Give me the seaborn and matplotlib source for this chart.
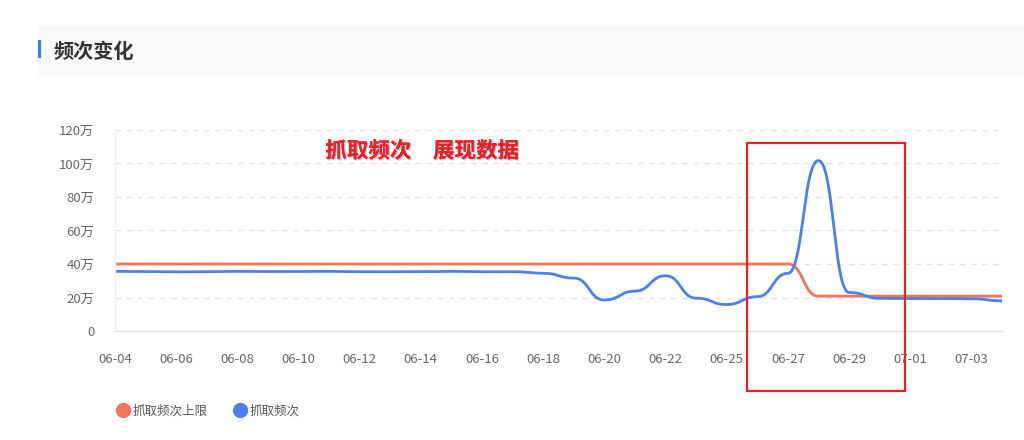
import numpy as np
import pandas as pd
import seaborn as sns
import matplotlib
matplotlib.use("Agg")
import matplotlib.pyplot as plt
from matplotlib.lines import Line2D
from matplotlib.patches import Rectangle
import matplotlib.patheffects as pe

# ---------------- data ----------------
dates = ["06-04", "06-05", "06-06", "06-07", "06-08", "06-09", "06-10", "06-11",
         "06-12", "06-13", "06-14", "06-15", "06-16", "06-17", "06-18", "06-19",
         "06-20", "06-21", "06-22", "06-23", "06-25", "06-26", "06-27", "06-28",
         "06-29", "06-30", "07-01", "07-02", "07-03", "07-04"]
shown_labels = ["06-04", "06-06", "06-08", "06-10", "06-12", "06-14", "06-16",
                "06-18", "06-20", "06-22", "06-25", "06-27", "06-29", "07-01", "07-03"]
crawl_limit = [40, 40, 40, 40, 40, 40, 40, 40, 40, 40, 40, 40, 40, 40, 40, 40,
               40, 40, 40, 40, 40, 40, 40, 20.8, 20.8, 20.8, 20.8, 20.8, 20.8, 20.8]
crawl_freq = [35.6, 35.5, 35.3, 35.4, 35.6, 35.5, 35.5, 35.6, 35.4, 35.4, 35.4,
              35.6, 35.4, 35.4, 34.5, 31.6, 18.5, 23.8, 33.0, 19.6, 15.8, 20.5,
              34.4, 101.7, 23.0, 19.5, 19.4, 19.4, 19.3, 18.0]
series_names = ["抓取频次上限", "抓取频次"]
series_colors = ["#f5735b", "#4a80ee"]
yticks = [0, 20, 40, 60, 80, 100, 120]
ytick_labels = ["0", "20万", "40万", "60万", "80万", "100万", "120万"]

# ---------------- style ----------------
sns.set_theme(style="white")
plt.rcParams["font.family"] = ["Noto Sans CJK SC", "DejaVu Sans"]

fig = plt.figure(figsize=(10.24, 4.40), dpi=100)
W, H = 1024, 440

def fx(px):
    return px / W

def fy(py):
    return 1 - py / H

# header band
fig.patches.append(Rectangle((fx(38), fy(75)), fx(1024) - fx(38), fy(25) - fy(75),
                             transform=fig.transFigure, facecolor="#f8f8f8",
                             edgecolor="none", zorder=0))
fig.patches.append(Rectangle((fx(38), fy(58)), fx(41) - fx(38), fy(40) - fy(58),
                             transform=fig.transFigure, facecolor="#3b7cf2",
                             edgecolor="none", zorder=1))
fig.text(fx(54), fy(51), "频次变化", fontsize=14.5, fontweight="bold",
         color="#333333", va="center", ha="left")

ax = fig.add_axes([fx(115), fy(331), fx(1002) - fx(115), fy(130) - fy(331)])

df = pd.DataFrame({
    "idx": list(range(len(dates))) * 2,
    "value": crawl_limit + crawl_freq,
    "series": [series_names[0]] * len(dates) + [series_names[1]] * len(dates),
})
sns.lineplot(data=df, x="idx", y="value", hue="series", hue_order=series_names,
             palette=series_colors, linewidth=2, ax=ax, legend=False, sort=True)

# smooth rendering (horizontal tangents at each point, like the source chart)
def smooth_path(xs, ys, n=40):
    xs = np.asarray(xs, float)
    ys = np.asarray(ys, float)
    t = np.linspace(0, 1, n)
    b0 = (1 - t) ** 3
    b1 = 3 * t * (1 - t) ** 2
    b2 = 3 * t ** 2 * (1 - t)
    b3 = t ** 3
    outx, outy = [], []
    for i in range(len(xs) - 1):
        x0, x1 = xs[i], xs[i + 1]
        y0, y1 = ys[i], ys[i + 1]
        dx = x1 - x0
        bx = b0 * x0 + b1 * (x0 + 0.5 * dx) + b2 * (x1 - 0.5 * dx) + b3 * x1
        by = b0 * y0 + b1 * y0 + b2 * y1 + b3 * y1
        outx.append(bx if i == 0 else bx[1:])
        outy.append(by if i == 0 else by[1:])
    return np.concatenate(outx), np.concatenate(outy)

for line in ax.lines:
    sx, sy = smooth_path(line.get_xdata(), line.get_ydata())
    line.set_data(sx, sy)
    line.set_solid_capstyle("round")
    line.set_solid_joinstyle("round")

ax.set_xlim(0, len(dates) - 1)
ax.set_ylim(0, 120)
ax.set_yticks(yticks)
ax.set_yticklabels(ytick_labels)
tick_pos = [dates.index(d) for d in shown_labels]
ax.set_xticks(tick_pos)
ax.set_xticklabels(shown_labels)
ax.set_xlabel("")
ax.set_ylabel("")
ax.tick_params(axis="both", length=0, labelsize=9.5, colors="#666666")
ax.tick_params(axis="x", pad=16)
ax.tick_params(axis="y", pad=15)
for v in yticks[1:]:
    ax.axhline(v, color="#e3e3e3", linewidth=1, linestyle=(0, (4, 4)), zorder=0)
for s in ["top", "right"]:
    ax.spines[s].set_visible(False)
ax.spines["left"].set_color("#f0f0f0")
ax.spines["left"].set_linewidth(1)
ax.spines["bottom"].set_color("#e0e0e0")
ax.spines["bottom"].set_linewidth(1)
ax.set_facecolor("none")
ax.grid(False)

# annotation text
fig.text(fx(422), fy(151), "抓取频次\u3000展现数据", fontsize=15.5, fontweight="bold",
         color="#e8202a", ha="center", va="center",
         path_effects=[pe.withSimplePatchShadow(offset=(1, -1), shadow_rgbFace="#aaaaaa",
                                                alpha=0.6), pe.Normal()])

# red highlight box
fig.patches.append(Rectangle((fx(747), fy(391)), fx(905) - fx(747), fy(143) - fy(391),
                             transform=fig.transFigure, facecolor="none",
                             edgecolor="#e8202a", linewidth=1.6, zorder=5))

# legend
handles = [Line2D([0], [0], marker="o", linestyle="none", markersize=10,
                  markerfacecolor=c, markeredgecolor=c) for c in series_colors]
leg = fig.legend(handles, series_names, loc="center left",
                 bbox_to_anchor=(fx(110), fy(411)), ncol=2, frameon=False,
                 fontsize=9, handletextpad=0.2, columnspacing=2.0,
                 handlelength=1.2, borderaxespad=0)
for t in leg.get_texts():
    t.set_color("#555555")

fig.savefig("out.png", dpi=100, facecolor="white")
